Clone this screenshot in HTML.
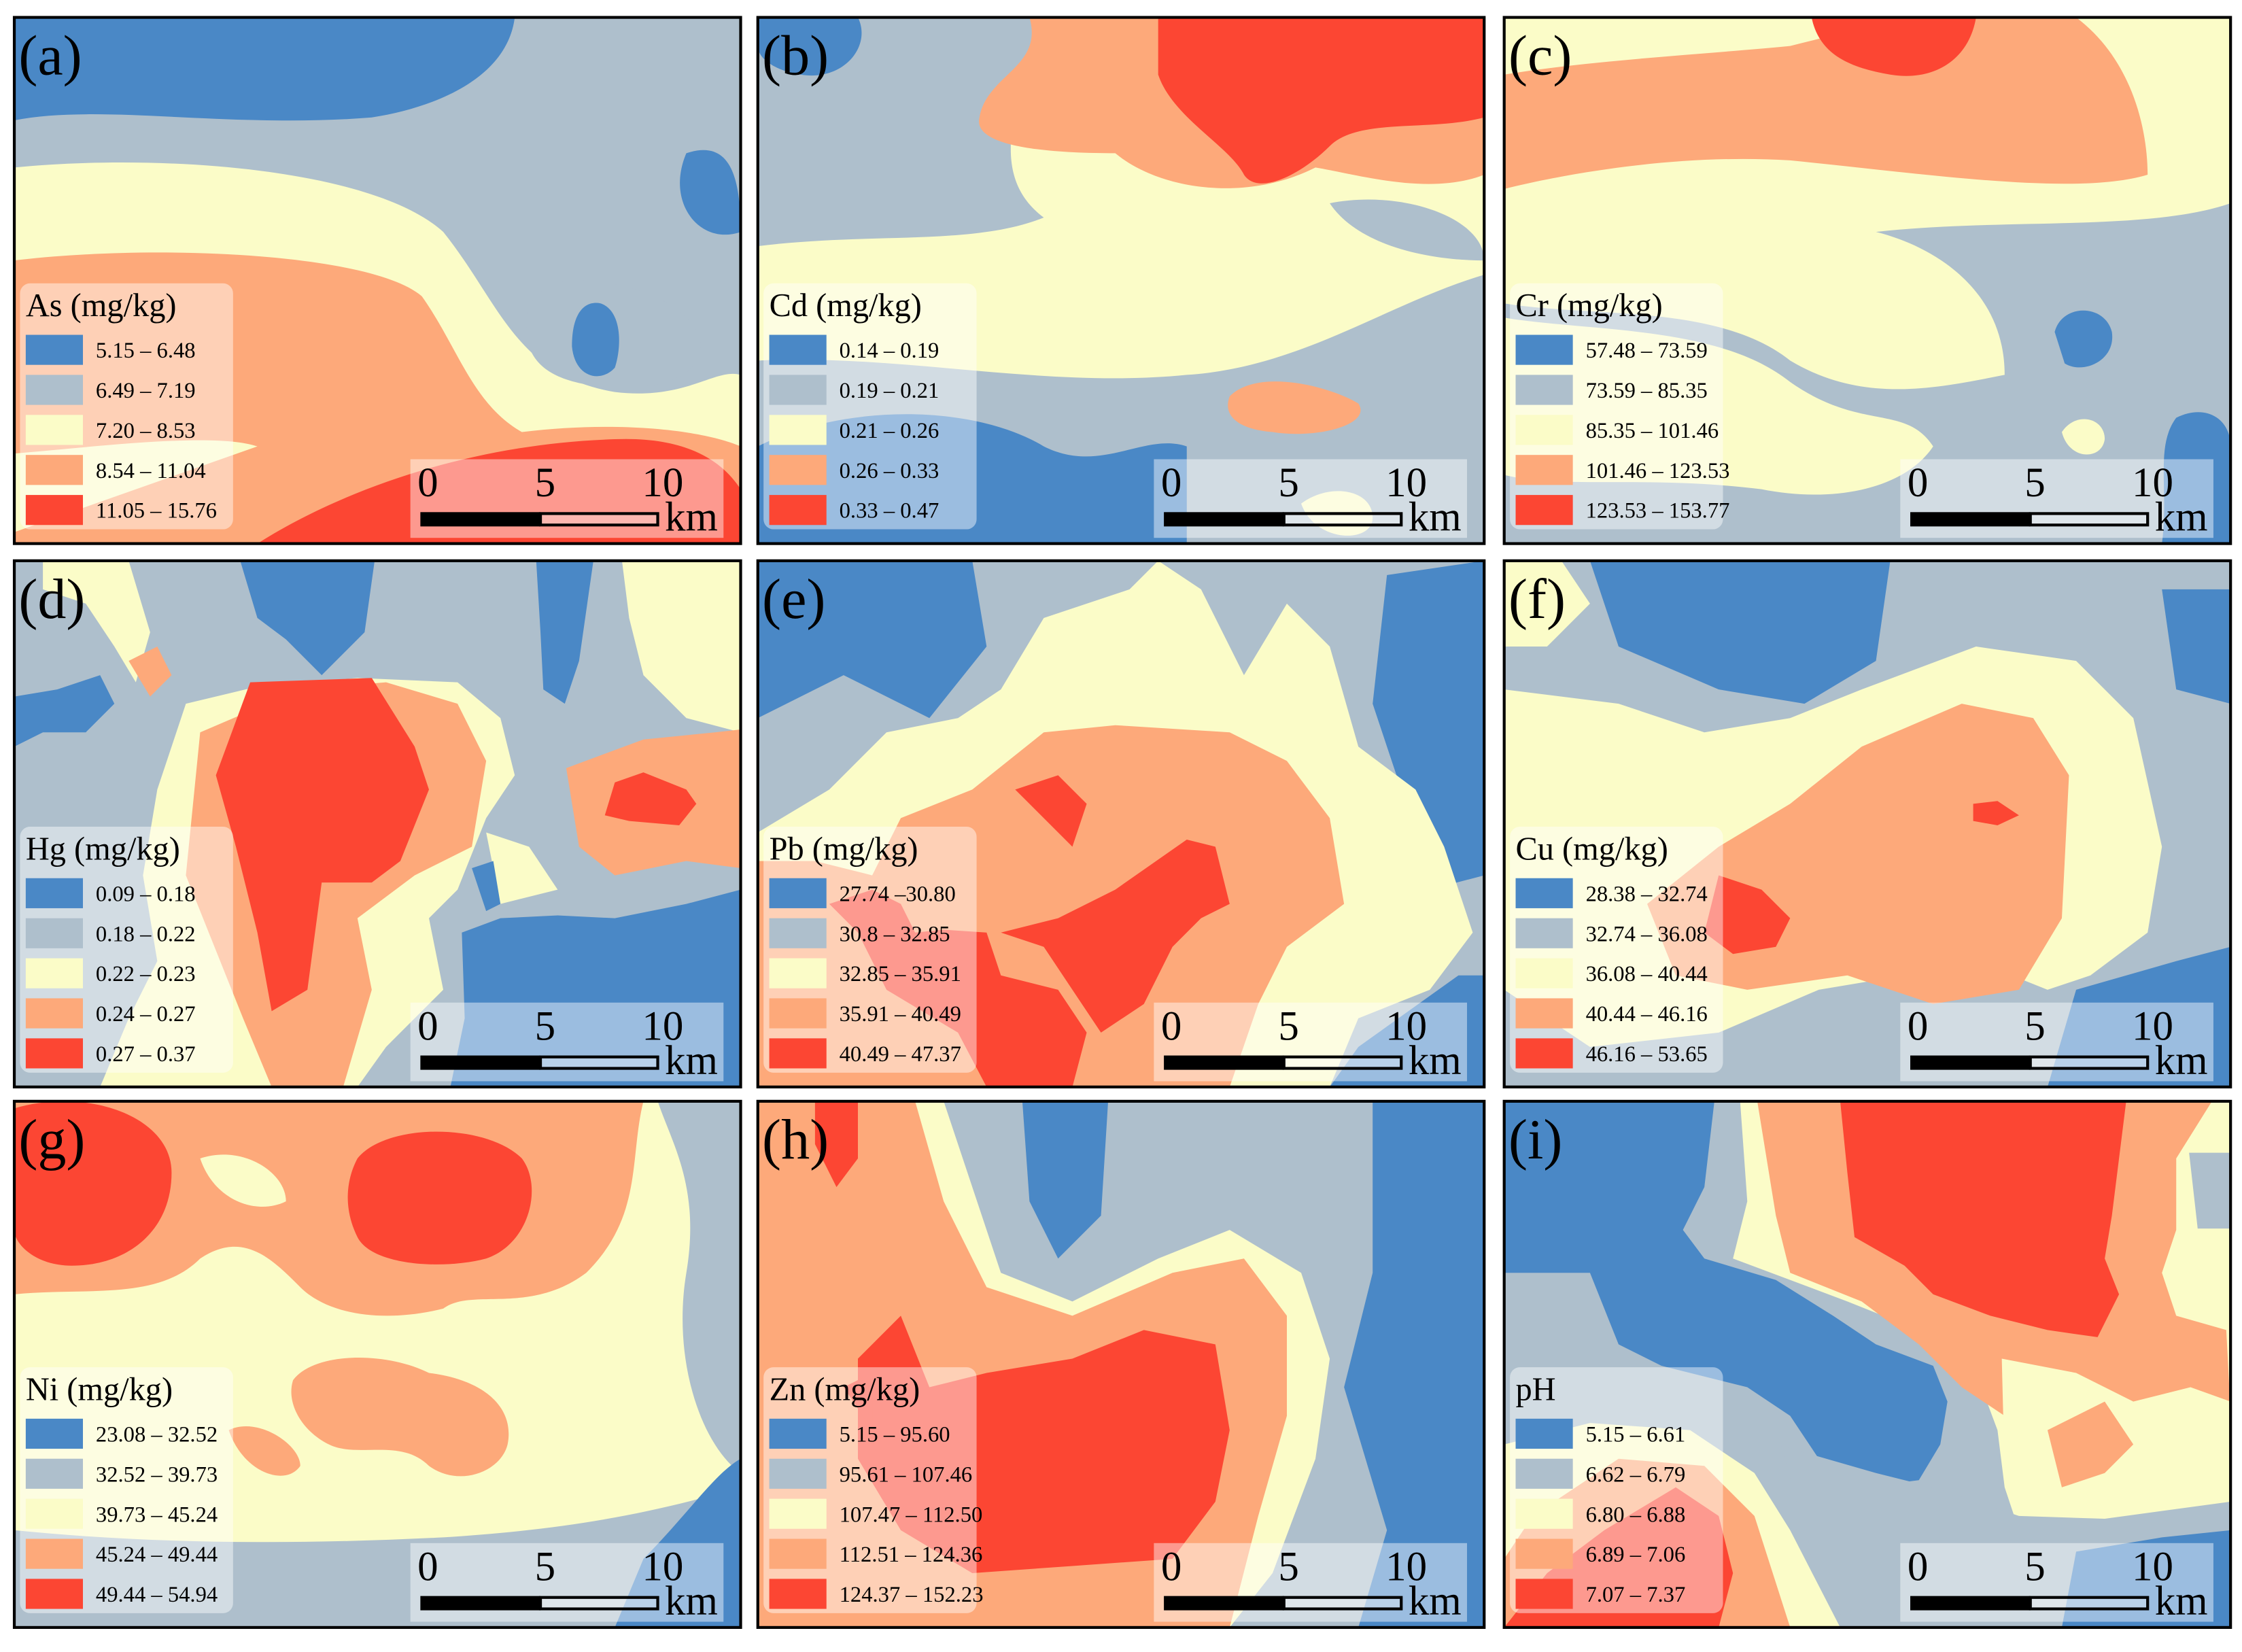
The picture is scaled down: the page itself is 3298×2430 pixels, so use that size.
<!DOCTYPE html>
<html><head><meta charset="utf-8">
<style>
html,body{margin:0;padding:0;background:#fff;}
svg{display:block;}
text{font-family:"Liberation Serif",serif;}
</style></head>
<body>
<svg id="fig" width="3298" height="2430" viewBox="0 0 1568 1155" xmlns="http://www.w3.org/2000/svg">
<defs><clipPath id="pc"><rect x="0" y="0" width="508" height="368"/></clipPath></defs>
<rect width="1568" height="1155" fill="#fff"/>

<!-- (a) -->
<g id="p0" transform="translate(10,12)"><g clip-path="url(#pc)">
<rect width="508" height="368" fill="#aebfcc"/>
<path fill="#4a88c6" d="M0,0H350C345,40 300,62 250,70C150,78 60,60 0,72Z"/>
<path fill="#4a88c6" d="M470,95C500,85 508,110 508,150C480,160 455,130 470,95Z"/>
<path fill="#fbfcc8" d="M0,105C100,95 250,105 300,150C340,200 350,250 420,262C470,268 490,245 508,250V368H0Z"/>
<path fill="#aebfcc" d="M360,230C350,190 380,180 410,185C450,190 480,210 480,230C480,255 440,262 410,258C380,255 365,245 360,230Z"/>
<path fill="#4a88c6" d="M390,230C390,205 400,198 410,200C425,205 425,230 420,245C410,256 392,252 390,230Z"/>
<path fill="#fda97a" d="M0,170C100,158 250,165 285,195C310,230 320,270 355,290C420,282 480,288 508,300V368H0Z"/>
<path fill="#fbfcc8" d="M0,305C60,300 140,290 170,300L0,360Z"/>
<path fill="#fc4633" d="M170,368C230,330 320,298 420,295C470,293 495,310 508,330V368Z"/>
</g></g>

<!-- (b) -->
<g id="p1" transform="translate(530,12)"><g clip-path="url(#pc)">
<rect width="508" height="368" fill="#fbfcc8"/>
<path fill="#aebfcc" d="M0,0H200C180,60 160,110 200,140C150,160 80,150 0,160Z"/>
<path fill="#aebfcc" d="M400,130C450,120 508,140 508,170C470,170 420,160 400,130Z"/>
<path fill="#4a88c6" d="M0,0H70C80,20 60,45 30,40C15,38 0,30 0,20Z"/>
<path fill="#fda97a" d="M170,0H508V110C470,125 420,110 390,105C340,130 280,120 250,95C200,95 150,90 155,70C160,40 200,35 190,0Z"/>
<path fill="#fc4633" d="M280,0H508V70C470,80 420,70 400,90C380,110 350,125 340,110C330,90 290,70 280,40Z"/>
<path fill="#aebfcc" d="M0,240C100,235 200,260 300,250C380,245 440,200 508,180V368H0Z"/>
<path fill="#4a88c6" d="M0,300C60,270 150,270 200,300C240,320 270,290 300,300V368H0Z"/>
<path fill="#fbfcc8" d="M380,340C400,325 430,330 430,350C430,368 390,368 380,340Z"/>
<path fill="#fda97a" d="M330,265C350,245 400,258 420,270C430,285 390,295 360,290C335,288 325,278 330,265Z"/>
</g></g>

<!-- (c) -->
<g id="p2" transform="translate(1052,12)"><g clip-path="url(#pc)">
<rect width="508" height="368" fill="#fbfcc8"/>
<path fill="#fda97a" d="M0,40C60,30 150,25 200,20C240,10 280,0 300,0H400C440,30 450,80 450,110C400,125 300,110 200,100C120,95 40,110 0,120Z"/>
<path fill="#fc4633" d="M215,0H330C325,30 300,45 270,40C240,35 220,25 215,0Z"/>
<path fill="#aebfcc" d="M0,200C60,210 150,200 200,240C250,270 300,260 350,250C350,190 300,160 260,150C350,140 450,150 508,130V368H0Z"/>
<path fill="#fbfcc8" d="M0,210C60,220 150,215 200,255C250,290 280,270 300,300C280,330 230,340 180,330C100,320 40,330 0,320Z"/>
<path fill="#4a88c6" d="M385,220C390,200 420,200 425,220C428,240 405,250 392,242Z"/>
<path fill="#4a88c6" d="M470,280C490,270 508,280 508,300V368H460C465,330 455,300 470,280Z"/>
<path fill="#fbfcc8" d="M390,290C400,275 420,280 420,295C418,310 395,310 390,290Z"/>
</g></g>

<!-- (d) -->
<g id="p3" transform="translate(10,392)"><g clip-path="url(#pc)">
<rect width="508" height="368" fill="#aebfcc"/>
<path fill="#fbfcc8" d="M20,0H80L95,50L85,85L70,60L50,30L20,20Z"/>
<path fill="#fbfcc8" d="M425,0H508V120L470,110L440,80L430,40Z"/>
<path fill="#4a88c6" d="M158,0H252L245,50L215,80L190,55L170,40Z"/>
<path fill="#4a88c6" d="M365,0H405L395,70L385,100L370,90L368,50Z"/>
<path fill="#4a88c6" d="M0,95L30,90L60,80L70,100L50,120L20,120L0,130Z"/>
<path fill="#fda97a" d="M80,70L100,60L110,80L95,95Z"/>
<path fill="#fbfcc8" d="M100,160L120,100L170,88L240,82L310,85L340,110L350,150L330,180L310,230L290,250L300,300L260,340L240,368H60L80,320L100,280L90,220Z"/>
<path fill="#fda97a" d="M130,120L200,90L260,85L310,100L330,140L320,200L280,220L240,250L250,300L230,368H180L160,320L140,270L120,220Z"/>
<path fill="#fc4633" d="M141,150L165,85L250,82L280,130L290,160L270,210L250,225L215,225L205,300L180,315L170,260L155,200Z"/>
<path fill="#fda97a" d="M386,145L440,125L490,120L508,118V215L470,210L420,220L395,200Z"/>
<path fill="#fc4633" d="M420,155L440,148L470,160L477,170L465,185L430,182L413,178Z"/>
<path fill="#fbfcc8" d="M330,190L360,200L380,230L340,240Z"/>
<path fill="#4a88c6" d="M313,260L340,250L380,248L420,250L470,240L508,230V368H305L315,320Z"/>
<path fill="#4a88c6" d="M320,215L335,210L340,240L330,245Z"/>
</g></g>

<!-- (e) -->
<g id="p4" transform="translate(530,392)"><g clip-path="url(#pc)">
<rect width="508" height="368" fill="#aebfcc"/>
<path fill="#4a88c6" d="M0,0H150L160,60L120,110L60,80L0,110Z"/>
<path fill="#4a88c6" d="M440,10L508,0V220L470,230L450,160L430,100Z"/>
<path fill="#4a88c6" d="M420,340L490,290L508,290V368H400Z"/>
<path fill="#fbfcc8" d="M0,190L50,160L90,120L140,110L170,90L200,40L260,20L280,0L310,20L340,80L370,30L400,60L420,130L460,160L480,200L500,260L470,300L420,320L400,368H80L0,300Z"/>
<path fill="#fda97a" d="M0,210L40,210L80,220L100,180L150,160L200,120L250,115L330,120L370,140L400,180L410,240L370,270L350,310L330,368H0Z"/>
<path fill="#fc4633" d="M50,240L80,230L100,240L110,260L130,258L160,260L170,290L210,300L230,330L220,368H160L140,330L90,300L70,260Z"/>
<path fill="#fc4633" d="M170,260L210,250L250,230L300,195L320,200L330,240L310,250L290,270L270,310L240,330L220,300L200,270Z"/>
<path fill="#fc4633" d="M180,160L210,150L230,170L220,200Z"/>
</g></g>

<!-- (f) -->
<g id="p5" transform="translate(1052,392)"><g clip-path="url(#pc)">
<rect width="508" height="368" fill="#aebfcc"/>
<path fill="#4a88c6" d="M60,0H270L260,70L210,100L150,90L80,60Z"/>
<path fill="#4a88c6" d="M460,20L508,20V100L470,90Z"/>
<path fill="#4a88c6" d="M400,300L470,280L508,270V368H380Z"/>
<path fill="#fbfcc8" d="M0,90L80,100L140,120L200,110L250,90L330,60L400,70L440,110L460,200L450,260L410,290L380,300L330,280L280,290L220,300L150,330L60,340L0,300Z"/>
<path fill="#fbfcc8" d="M0,0H40L60,30L30,60L0,60Z"/>
<path fill="#fda97a" d="M100,240L150,200L200,170L250,130L320,100L370,110L395,150L390,250L360,300L300,310L240,290L170,300L120,290Z"/>
<path fill="#fc4633" d="M150,220L180,230L200,250L190,270L160,275L140,260Z"/>
<path fill="#fc4633" d="M328,170L345,168L360,178L345,185L328,182Z"/>
</g></g>

<!-- (g) -->
<g id="p6" transform="translate(10,770)"><g clip-path="url(#pc)">
<rect width="508" height="368" fill="#fbfcc8"/>
<path fill="#fda97a" d="M0,0H440C430,40 440,80 400,120C360,150 320,130 300,145C260,155 220,150 200,130C180,110 160,90 130,110C100,140 50,130 0,135Z"/>
<path fill="#fbfcc8" d="M130,40C160,30 190,50 190,70C170,80 140,70 130,40Z"/>
<path fill="#fc4633" d="M0,5C50,-10 110,10 110,50C110,90 80,115 40,115C15,115 0,100 0,90Z"/>
<path fill="#fc4633" d="M240,40C260,15 330,15 355,40C370,60 360,100 330,110C300,118 250,115 240,95C230,75 232,55 240,40Z"/>
<path fill="#fda97a" d="M195,195C210,175 260,175 290,190C330,195 350,215 345,240C340,260 310,270 290,255C270,235 240,250 220,240C200,230 190,210 195,195Z"/>
<path fill="#fda97a" d="M150,230C170,220 200,240 200,255C190,270 160,260 150,230Z"/>
<path fill="#aebfcc" d="M0,300C100,310 200,310 300,305C380,300 440,290 508,270V368H0Z"/>
<path fill="#aebfcc" d="M450,0H508V260C480,240 460,180 470,120C480,60 460,30 450,0Z"/>
<path fill="#4a88c6" d="M440,320C470,290 490,260 508,250V368H420Z"/>
</g></g>

<!-- (h) -->
<g id="p7" transform="translate(530,770)"><g clip-path="url(#pc)">
<rect width="508" height="368" fill="#aebfcc"/>
<path fill="#4a88c6" d="M185,0H245L240,80L210,110L190,70Z"/>
<path fill="#4a88c6" d="M430,0H508V368H420L440,300L410,200L430,120Z"/>
<path fill="#fbfcc8" d="M0,0H130L150,60L170,120L220,140L280,110L330,90L380,120L400,180L390,250L360,330L330,368H0Z"/>
<path fill="#fda97a" d="M0,0H110L130,70L160,130L220,150L290,120L340,110L370,150L370,220L350,290L330,368H0Z"/>
<path fill="#fc4633" d="M40,0L70,0L70,40L55,60L40,30Z"/>
<path fill="#fc4633" d="M70,180L100,150L120,200L160,190L220,180L270,160L320,170L330,230L320,280L290,320L220,325L150,330L100,300L70,250Z"/>
<path fill="#fc4633" d="M60,200L80,190L80,230Z"/>
</g></g>

<!-- (i) -->
<g id="p8" transform="translate(1052,770)"><g clip-path="url(#pc)">
<rect width="508" height="368" fill="#aebfcc"/>
<path fill="#4a88c6" d="M0,0H147L140,60L125,90L140,110L190,125L230,150L260,170L300,185L310,210L305,240L290,265L250,270L220,250L200,220L170,200L110,185L80,170L60,120L0,120Z"/>
<path fill="#fbfcc8" d="M165,0H508V368H460L430,310L400,305L360,300L350,270L345,230L330,190L290,160L240,140L200,125L160,110L170,70Z"/>
<path fill="#aebfcc" d="M479,36H508V89H485Z"/>
<path fill="#fda97a" d="M177,0H495L470,40L470,90L460,120L470,150L505,160L508,217L470,215L440,240L400,260L380,250L350,220L320,200L290,170L250,140L200,120L190,80Z"/>
<path fill="#fc4633" d="M235,0H435L425,80L420,110L430,135L415,165L380,160L340,150L300,135L280,115L245,95L240,50Z"/>
<path fill="#fbfcc8" d="M348,180L400,190L440,210L480,200L508,210V300L470,302L420,300L380,295L350,260Z"/>
<path fill="#fda97a" d="M380,230L420,210L440,240L420,260L390,270Z"/>
<path fill="#aebfcc" d="M194,241L260,260L300,270L360,290L420,292L508,280V368H240L215,320Z"/>
<path fill="#4a88c6" d="M400,315L460,305L508,300V368H390Z"/>
<path fill="#fbfcc8" d="M0,240L60,225L130,230L175,260L200,300L235,368H0Z"/>
<path fill="#fda97a" d="M20,290L80,250L140,255L175,290L200,368H0V320Z"/>
<path fill="#fc4633" d="M30,330L70,300L120,270L150,290L160,330L150,368H0Z"/>
</g></g>

<g id="overlays"></g>
</svg>
<script>
const labels = ["(a)","(b)","(c)","(d)","(e)","(f)","(g)","(h)","(i)"];
const titles = ["As (mg/kg)","Cd (mg/kg)","Cr (mg/kg)","Hg (mg/kg)","Pb (mg/kg)","Cu (mg/kg)","Ni (mg/kg)","Zn (mg/kg)","pH"];
const rangesAs = ["5.15 – 6.48","6.49 – 7.19","7.20 – 8.53","8.54 – 11.04","11.05 – 15.76"];
const rangesCd = ["0.14 – 0.19","0.19 – 0.21","0.21 – 0.26","0.26 – 0.33","0.33 – 0.47"];
const rangesCr = ["57.48 – 73.59","73.59 – 85.35","85.35 – 101.46","101.46 – 123.53","123.53 – 153.77"];
const rangesHg = ["0.09 – 0.18","0.18 – 0.22","0.22 – 0.23","0.24 – 0.27","0.27 – 0.37"];
const rangesPb = ["27.74 –30.80","30.8 – 32.85","32.85 – 35.91","35.91 – 40.49","40.49 – 47.37"];
const rangesCu = ["28.38 – 32.74","32.74 – 36.08","36.08 – 40.44","40.44 – 46.16","46.16 – 53.65"];
const rangesNi = ["23.08 – 32.52","32.52 – 39.73","39.73 – 45.24","45.24 – 49.44","49.44 – 54.94"];
const rangesZn = ["5.15 – 95.60","95.61 – 107.46","107.47 – 112.50","112.51 – 124.36","124.37 – 152.23"];
const rangesPH = ["5.15 – 6.61","6.62 – 6.79","6.80 – 6.88","6.89 – 7.06","7.07 – 7.37"];
const allRanges = [rangesAs,rangesCd,rangesCr,rangesHg,rangesPb,rangesCu,rangesNi,rangesZn,rangesPH];
const classColors = ["#4a88c6","#aebfcc","#fbfcc8","#fda97a","#fc4633"];
const scaleTicks = ["0","5","10"];
const colX = [10,530,1052], rowY = [12,392,770];
const NS = "http://www.w3.org/2000/svg";
const ov = document.getElementById("overlays");
function mk(tag, attrs, parent){const e=document.createElementNS(NS,tag);for(const k in attrs)e.setAttribute(k,attrs[k]);parent.appendChild(e);return e;}
for(let i=0;i<9;i++){
  const px=colX[i%3], py=rowY[Math.floor(i/3)];
  const g=mk("g",{transform:`translate(${px},${py})`},ov);
  
  
  const lg=mk("g",{},g);
  
  
  mk("rect",{x:4,y:186,width:149,height:172,rx:7,fill:"#fff","fill-opacity":0.45},lg);
  const t=mk("text",{x:8,y:209,"font-size":23,fill:"#000"},lg);
  t.textContent=titles[i];
  
  
  allRanges[i].forEach((r,k)=>{
    const sw=mk("rect",{x:8,y:222+k*28,width:40,height:21,fill:classColors[k]},lg);
    
    
    const lt=mk("text",{x:57,y:238+k*28,"font-size":15.5,fill:"#000"},lg);
    lt.textContent=r;
    
    
  });
  const sb=mk("g",{},g);
  
  
  mk("rect",{x:277,y:309,width:219,height:55,fill:"#fff","fill-opacity":0.45},sb);
  scaleTicks.forEach((s,k)=>{
    const st=mk("text",{x:[282,364,439][k],y:335,"font-size":29,fill:"#000"},sb);
    st.textContent=s;
  });
  mk("rect",{x:284,y:346,width:84,height:10,fill:"#000"},sb);
  mk("rect",{x:368,y:347,width:82,height:8,fill:"#fff","fill-opacity":0.3,stroke:"#000","stroke-width":2},sb);
  const km=mk("text",{x:455,y:359,"font-size":29,fill:"#000"},sb);
  km.textContent="km";
  const pl=mk("text",{x:3,y:40,"font-size":40,fill:"#000"},g);
  pl.textContent=labels[i];
  
  
  const br=mk("rect",{x:0,y:0,width:508,height:368,fill:"none",stroke:"#000","stroke-width":2},g);
  
  
}
</script>
</body></html>
